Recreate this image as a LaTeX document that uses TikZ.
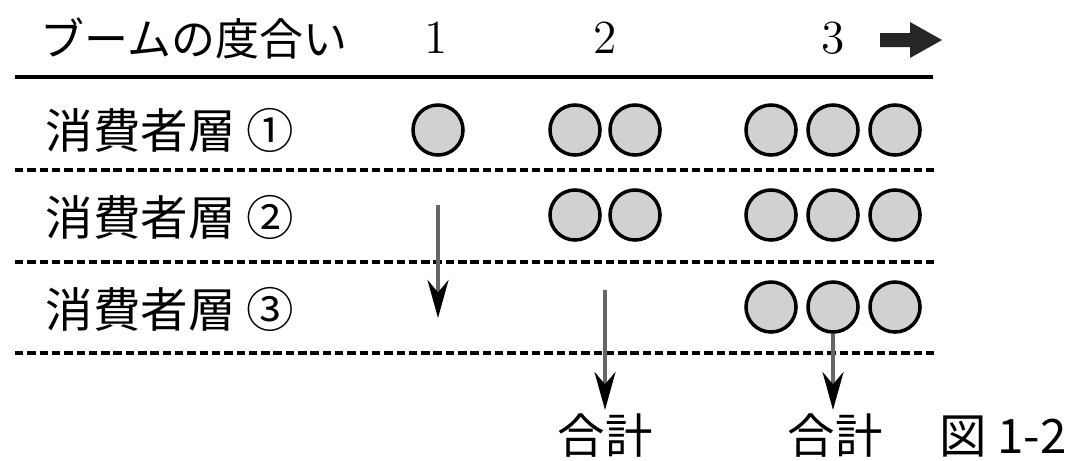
\documentclass[tikz,border=0pt]{standalone}
\usepackage{fontspec}
\newfontfamily\jpfont{Noto Sans CJK JP}
\usetikzlibrary{positioning}
\usetikzlibrary{arrows.meta}

\tikzset{
  ball/.style={circle,draw,line width=1pt,fill=black!18,minimum size=5mm,inner sep=0pt},
  layer/.style={anchor=west,inner sep=0pt,font=\jpfont\fontsize{13.5}{16}\selectfont},
  total/.style={inner sep=1pt,font=\jpfont\fontsize{13.5}{16}\selectfont},
  level/.style={inner sep=0pt,font=\fontsize{13.5}{16}\selectfont},
  flow/.style={draw=black!60,line width=1.1pt,-{Stealth[length=3.8mm,width=2.1mm,black]}},
  sepline/.style={line width=1pt,dash pattern=on 2.4pt off 1.1pt}
}

\begin{document}
\begin{tikzpicture}[x=.01cm,y=-.01cm]
\useasboundingbox (0,0) rectangle (1071,460);

\node[layer,font=\jpfont\fontsize{12.5}{15}\selectfont] (boom) at (40,38) {ブームの度合い};
\node[level] (lv1) at (436,38) {1};
\node[level] (lv2) at (605,38) {2};
\node[level] (lv3) at (833,38) {3};
\fill[black!85] (880,33)--(910,33)--(910,22)--(942,40)--(910,58)--(910,47)--(880,47)--cycle;

\draw[line width=1.1pt] (15,77)--(933,77);
\draw[sepline] (15,170)--(935,170);
\draw[sepline] (15,262)--(935,262);
\draw[sepline] (15,353)--(935,353);

\node[layer] (row1) at (45,130) {消費者層 ①};
\node[layer] (row2) at (45,217) {消費者層 ②};
\node[layer] (row3) at (45,309) {消費者層 ③};

\node[ball] (b11) at (438,130) {};
\node[ball] (b21) at (575,130) {};
\node[ball] (b22) at (635,130) {};
\node[ball] (b31) at (771,130) {};
\node[ball] (b32) at (833,130) {};
\node[ball] (b33) at (895,130) {};

\node[ball] (c21) at (575,215) {};
\node[ball] (c22) at (635,215) {};
\node[ball] (c31) at (771,215) {};
\node[ball] (c32) at (833,215) {};
\node[ball] (c33) at (895,215) {};

\node[ball] (d31) at (771,307) {};
\node[ball] (d32) at (833,307) {};
\node[ball] (d33) at (895,307) {};

\node[total] (sum2) at (605,436) {合計};
\node[total] (sum3) at (835,436) {合計};
\node[total] (fig) at (1003,436) {図 1-2};

\coordinate (f1a) at (438,205);
\coordinate (f1b) at (438,318);
\coordinate (f2a) at (605,290);
\draw[flow] (f1a)--(f1b);
\draw[flow] (f2a)--(sum2.north);
\draw[flow] (d32.south)--(d32.south |- sum3.north);
\end{tikzpicture}
\end{document}
